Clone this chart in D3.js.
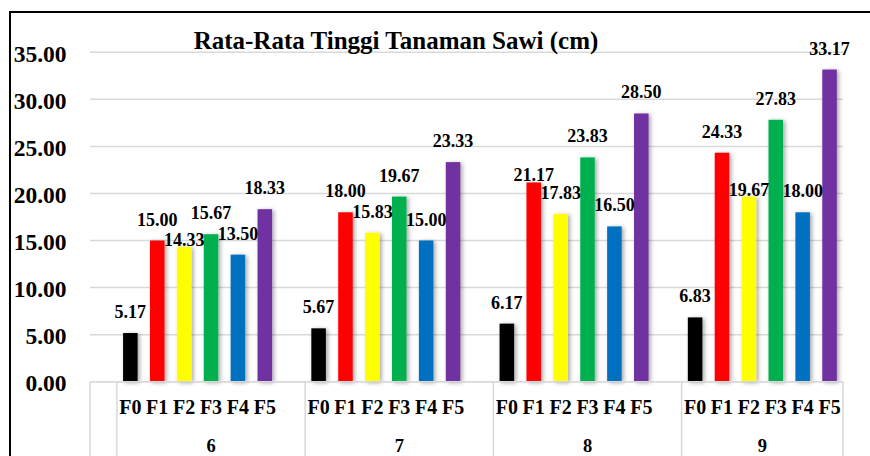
<!DOCTYPE html>
<html>
<head>
<meta charset="utf-8">
<script src="https://cdn.jsdelivr.net/npm/d3@7"></script>
<style>
  body { margin: 0; background: #fff; }
  svg { display: block; }
  text { font-family: "Palatino Linotype", "Book Antiqua", "Liberation Serif", serif; font-weight: bold; fill: #000; }
</style>
</head>
<body>
<div id="chart"></div>
<script>
// data
const weeks = ["6", "7", "8", "9"];
const treatments = ["F0", "F1", "F2", "F3", "F4", "F5"];
const F0 = [5.17, 5.67, 6.17, 6.83];
const F1 = [15.00, 18.00, 21.17, 24.33];
const F2 = [14.33, 15.83, 17.83, 19.67];
const F3 = [15.67, 19.67, 23.83, 27.83];
const F4 = [13.50, 15.00, 16.50, 18.00];
const F5 = [18.33, 23.33, 28.50, 33.17];
const yTicks = [0, 5, 10, 15, 20, 25, 30, 35];
const title = "Rata-Rata Tinggi Tanaman Sawi (cm)";

const series = { F0, F1, F2, F3, F4, F5 };
const colors = { F0: "#000000", F1: "#ff0000", F2: "#ffff00", F3: "#00b050", F4: "#0070c0", F5: "#7030a0" };
// labels that sit right on the bar top in the original
const lowLabels = ["6|F2", "8|F1", "9|F2"];

const width = 870, height = 456;
const plot = { left: 90, right: 843, top: 52.3, bottom: 381.7 };

// slot list: a blank slot, then each week's treatments followed by a blank (except the last)
const slots = ["lead"];
weeks.forEach((w, i) => {
  treatments.forEach(t => slots.push(w + "|" + t));
  if (i < weeks.length - 1) slots.push(w + "|gap");
});

const bars = weeks.flatMap((w, i) => treatments.map(t => ({
  key: w + "|" + t, week: w, t, value: series[t][i]
})));

const x = d3.scaleBand()
  .domain(slots)
  .range([plot.left, plot.right])
  .paddingInner(0.46)
  .paddingOuter(0.23);

const y = d3.scaleLinear().domain([0, 35]).range([plot.bottom, plot.top]);

const svg = d3.select("#chart").append("svg")
  .attr("width", width)
  .attr("height", height);

const defs = svg.append("defs");
defs.append("filter").attr("id", "shadow")
  .attr("x", "-50%").attr("y", "-10%").attr("width", "200%").attr("height", "120%")
  .append("feDropShadow")
    .attr("dx", 2).attr("dy", 1)
    .attr("stdDeviation", 2)
    .attr("flood-color", "#000")
    .attr("flood-opacity", 0.35);

// frame (top and left edge of the chart area)
svg.append("path")
  .attr("d", `M10,${height} L10,12 L${width},12`)
  .attr("fill", "none")
  .attr("stroke", "#000")
  .attr("stroke-width", 2);

// gridlines
svg.append("g")
  .selectAll("line")
  .data(yTicks)
  .join("line")
    .attr("x1", plot.left)
    .attr("x2", plot.right)
    .attr("y1", d => y(d))
    .attr("y2", d => y(d))
    .attr("stroke", "#d9d9d9")
    .attr("stroke-width", 1.5);

// y labels
svg.append("g")
  .selectAll("text")
  .data(yTicks)
  .join("text")
    .attr("x", 66.5)
    .attr("y", d => y(d) + 1)
    .attr("dy", "0.35em")
    .attr("text-anchor", "end")
    .style("font-size", "23.5px")
    .text(d => d.toFixed(2));

// title
svg.append("text")
  .attr("x", 396)
  .attr("y", 49)
  .attr("text-anchor", "middle")
  .style("font-size", "25px")
  .text(title);

// bars
svg.append("g")
  .selectAll("rect")
  .data(bars)
  .join("rect")
    .attr("x", d => x(d.key))
    .attr("width", x.bandwidth())
    .attr("y", d => y(d.value))
    .attr("height", d => y(0) - y(d.value))
    .attr("fill", d => colors[d.t])
    .attr("filter", "url(#shadow)");

// value labels
svg.append("g")
  .selectAll("text")
  .data(bars)
  .join("text")
    .attr("x", d => x(d.key) + x.bandwidth() / 2)
    .attr("y", d => y(d.value) - (lowLabels.includes(d.key) ? 1 : 15))
    .attr("text-anchor", "middle")
    .style("font-size", "18px")
    .text(d => d.value.toFixed(2));

// category axis: inner labels
svg.append("g")
  .selectAll("text")
  .data(bars)
  .join("text")
    .attr("x", d => x(d.key) + x.bandwidth() / 2)
    .attr("y", 414)
    .attr("text-anchor", "middle")
    .style("font-size", "20px")
    .text(d => d.t);

// outer group boundaries
const half = (x.step() - x.bandwidth()) / 2;
const slotStart = key => x(key) - half;
const bounds = [plot.left, slotStart(weeks[0] + "|F0")]
  .concat(weeks.slice(1).map(w => slotStart(w + "|F0")))
  .concat([plot.right]);

svg.append("line")
  .attr("x1", plot.left).attr("x2", plot.right)
  .attr("y1", y(0)).attr("y2", y(0))
  .attr("stroke", "#d9d9d9")
  .attr("stroke-width", 1.5);

svg.append("g")
  .selectAll("line")
  .data(bounds)
  .join("line")
    .attr("x1", d => d).attr("x2", d => d)
    .attr("y1", y(0)).attr("y2", height)
    .attr("stroke", "#d9d9d9")
    .attr("stroke-width", 1.5);

// outer labels (weeks)
svg.append("g")
  .selectAll("text")
  .data(weeks)
  .join("text")
    .attr("x", (d, i) => (bounds[i + 1] + bounds[i + 2]) / 2)
    .attr("y", 452)
    .attr("text-anchor", "middle")
    .style("font-size", "18.5px")
    .text(d => d);
</script>
</body>
</html>
